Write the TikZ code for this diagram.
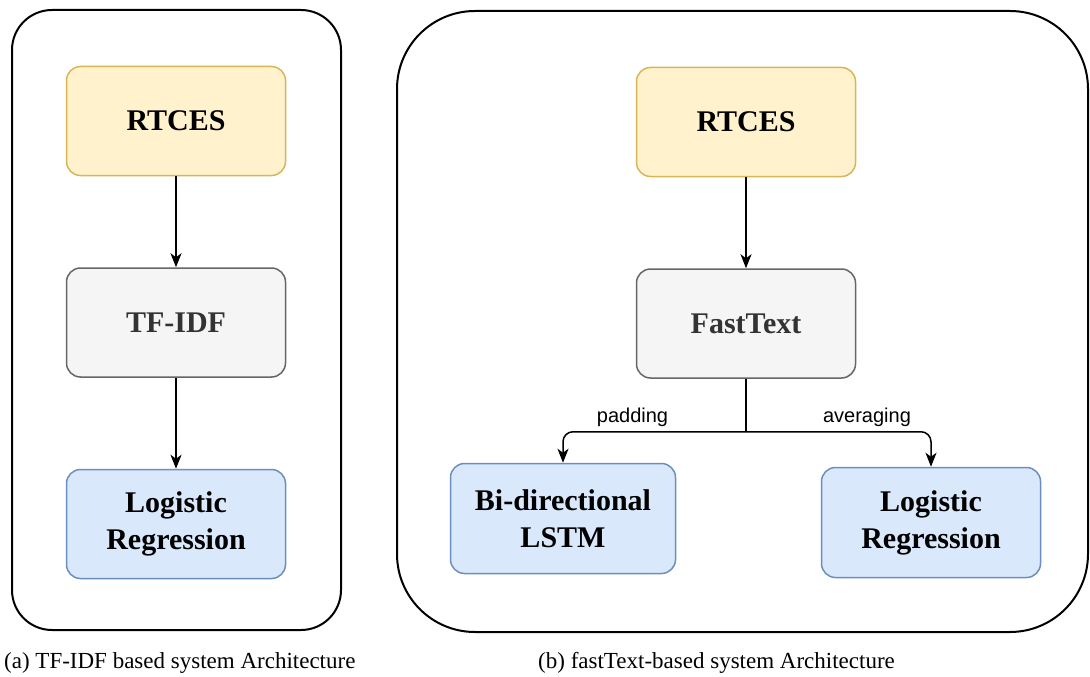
\documentclass[tikz,border=0pt]{standalone}
\usepackage{fontspec}
\setmainfont{Liberation Serif}
\setsansfont{Liberation Sans}
\usetikzlibrary{arrows.meta, positioning}
\definecolor{rtyellow}{HTML}{FFF2CC}
\definecolor{rtyellowline}{HTML}{D6B656}
\definecolor{ftgrey}{HTML}{F5F5F5}
\definecolor{ftgreyline}{HTML}{666666}
\definecolor{fttext}{HTML}{333333}
\definecolor{lrblue}{HTML}{DAE8FC}
\definecolor{lrblueline}{HTML}{6C8EBF}
\tikzset{
	tri/.tip={Stealth[length=14pt, width=11pt, inset=4pt]},
	% outer frames round each system
	panel/.style={draw=black, line width=2pt},
	% boxes of the pipelines
	block/.style={rectangle, rounded corners=14pt, line width=1.5pt,
		minimum width=219pt, minimum height=109pt, align=center,
		font=\fontsize{30}{37}\selectfont\bfseries},
	yellowbox/.style={block, fill=rtyellow, draw=rtyellowline},
	greybox/.style={block, fill=ftgrey, draw=ftgreyline, text=fttext},
	bluebox/.style={block, fill=lrblue, draw=lrblueline},
	link/.style={-tri, line width=1.5pt},
	edgelabel/.style={inner sep=0pt, font=\sffamily\fontsize{20}{24}\selectfont},
	caption/.style={anchor=base west, inner sep=0pt, font=\fontsize{23}{27}\selectfont}
}
\begin{document}
\begin{tikzpicture}[x=1pt, y=-1pt]
	\useasboundingbox (0,0) rectangle (1090,677);
	
	% Frames
	\draw[panel, rounded corners=40pt] (12,10) rectangle (341,630);
	\draw[panel, rounded corners=78pt] (397,11) rectangle (1088,632);
	
	% (a) TF-IDF pipeline
	\node[yellowbox] (rtcesA) at (176,121) {RTCES};
	\node[greybox, below=91pt of rtcesA] (tfidf) {TF-IDF};
	\node[bluebox, below=91pt of tfidf] (lrA) {Logistic\\Regression};
	\draw[link] (rtcesA) -- (tfidf);
	\draw[link] (tfidf) -- (lrA);
	
	% (b) fastText pipeline
	\node[yellowbox] (rtcesB) at (746,122) {RTCES};
	\node[greybox, below=91pt of rtcesB] (fasttext) {FastText};
	\node[bluebox, minimum width=225pt, minimum height=110pt] (bilstm) at (563,518.5) {Bi-directional\\LSTM};
	\node[bluebox, minimum height=110pt] (lrB) at (931,522.5) {Logistic\\Regression};
	\draw[link] (rtcesB) -- (fasttext);
	\draw[line width=1.5pt] (fasttext.south) -- ++(0,53) coordinate (split);
	\draw[link, rounded corners=10pt] (split) -| (bilstm.north)
		node[edgelabel, pos=0.31, above=4pt] {padding};
	\draw[link, rounded corners=10pt] (split) -| (lrB.north)
		node[edgelabel, pos=0.327, above=4pt] {averaging};
	
	% Captions
	\node[caption] (capA) at (4,668) {(a) TF-IDF based system Architecture};
	\node[caption] (capB) at (538,668) {(b) fastText-based system Architecture};
\end{tikzpicture}
\end{document}
